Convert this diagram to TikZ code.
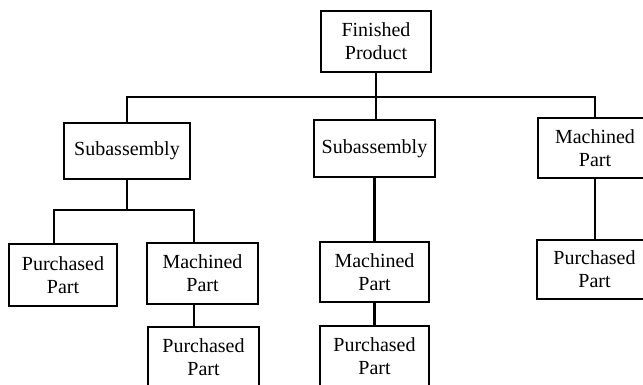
\documentclass[tikz,border=0pt]{standalone}
\usepackage{fontspec}
\setmainfont{Liberation Serif}
\begin{document}
\begin{tikzpicture}[x=1pt,y=-1pt,
  box/.style={draw, line width=2pt, inner sep=0pt, align=center,
    font=\fontsize{20}{23}\selectfont},
  conn/.style={line width=2.2pt}]
\clip (0,0) rectangle (643,385);
\fill[white] (0,0) rectangle (643,385);
% nodes
\node[box, minimum width=110pt, minimum height=61pt] (FP) at (376,41.5) {Finished\\Product};
\node[box, minimum width=126pt, minimum height=56pt] (S1) at (127,151) {Subassembly};
\node[box, minimum width=121pt, minimum height=57pt] (S2) at (374.5,148.5) {Subassembly};
\node[box, minimum width=114pt, minimum height=60pt] (M3) at (595,148) {Machined\\Part};
\node[box, minimum width=108pt, minimum height=62pt] (P1) at (63,275) {Purchased\\Part};
\node[box, minimum width=111pt, minimum height=61pt] (M1) at (202.5,273.5) {Machined\\Part};
\node[box, minimum width=111pt, minimum height=61pt] (P2) at (203.5,357.5) {Purchased\\Part};
\node[box, minimum width=109pt, minimum height=60pt] (M2) at (374.5,272) {Machined\\Part};
\node[box, minimum width=109pt, minimum height=61pt] (P3) at (374.5,356.5) {Purchased\\Part};
\node[box, minimum width=115pt, minimum height=59pt] (P4) at (594.5,269.5) {Purchased\\Part};
% junctions
\coordinate (b0) at (376,97);
\coordinate (j1) at (127,210);
\coordinate (jl) at (54,210);
\coordinate (jr) at (194,210);
% connectors
\draw[conn] (FP.south) -- (FP.south |- S2.north);
\draw[conn] (S1.north) |- (b0) -| (M3.north);
\draw[conn] (S1.south) -- (j1);
\draw[conn] (jl |- P1.north) |- (jr) -- (jr |- M1.north);
\draw[conn] (jr |- M1.south) -- (jr |- P2.north);
\draw[conn] (S2.south) -- (M2.north);
\draw[conn] (M2.south) -- (P3.north);
\draw[conn] (M3.south) -- (M3.south |- P4.north);
\end{tikzpicture}
\end{document}
